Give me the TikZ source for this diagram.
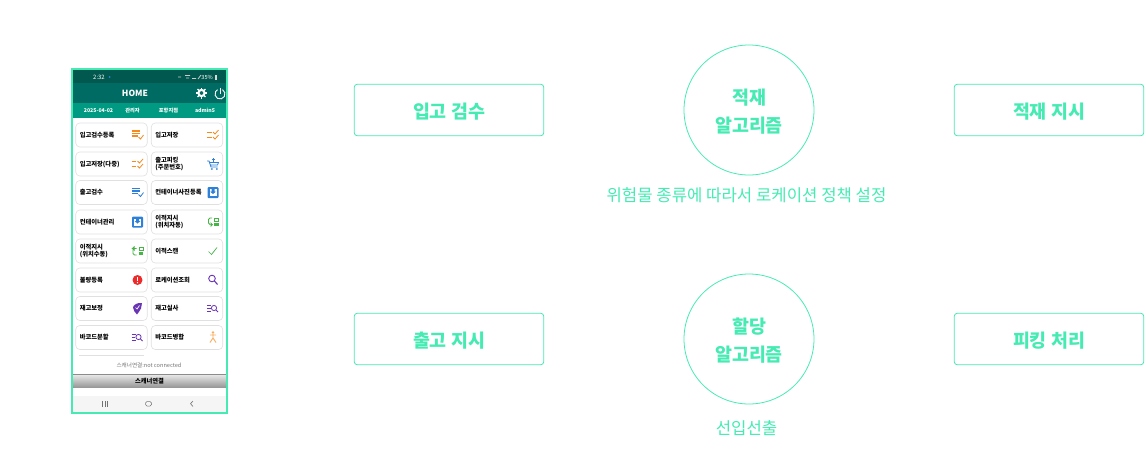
\documentclass[tikz,border=0pt]{standalone}
\usepackage{fontspec}
\setmainfont{Noto Sans CJK KR}
\definecolor{mint}{HTML}{45EBB2}
\definecolor{statusgreen}{HTML}{00584E}
\definecolor{headgreen}{HTML}{006B62}
\definecolor{subgreen}{HTML}{009A82}
\definecolor{iconorange}{HTML}{F58A1F}
\definecolor{iconblue}{HTML}{2F80D8}
\definecolor{icongreen}{HTML}{45B545}
\definecolor{iconpurple}{HTML}{6A35B5}
\definecolor{iconred}{HTML}{EC2B2B}
\newcommand{\lowered}{\rule{0pt}{18.5pt}}
\tikzset{
	box_style/.style = {shape=rectangle, draw=mint, rounded corners=3pt, line width=0.8pt, minimum width=189.5pt, minimum height=51.5pt, text=mint, execute at begin node={\rule{0pt}{18.5pt}}, font=\fontsize{18.4}{22}\selectfont\bfseries},
	algo_style/.style = {shape=circle, draw=mint, line width=0.8pt, minimum size=130pt, inner sep=0pt, text=mint, align=center, font=\fontsize{18.4}{28}\selectfont\bfseries},
	note_style/.style = {text=mint, inner sep=0pt, font=\fontsize{16.7}{20}\selectfont},
	menu_style/.style = {shape=rectangle, draw=black!12, rounded corners=4pt, line width=0.6pt, fill=white, minimum width=71.5pt, minimum height=24pt, text width=63.5pt, inner xsep=4pt, inner ysep=0pt, align=left, font=\fontsize{6.3}{7.6}\selectfont\bfseries},
	bar_style/.style = {text=white, inner sep=0pt, font=\fontsize{5.2}{6}\selectfont\bfseries}
}
% small menu icons, drawn around the local origin
\newcommand{\IconList}[1]{
	\draw[#1, line width=1.1pt] (-6,-4) -- (2,-4) (-6,-1.5) -- (2,-1.5) (-6,1) -- (0,1);
	\draw[#1, line width=0.8pt] (1,2) -- (3,4) -- (6,0);
}
\newcommand{\IconTwoCheck}[1]{
	\draw[#1, line width=0.8pt] (-6,-2.5) -- (-1.5,-2.5) (-6,2.5) -- (-1.5,2.5);
	\draw[#1, line width=0.8pt] (0,-3) -- (2,-1) -- (5.5,-5) (0,2) -- (2,4) -- (5.5,0);
}
\newcommand{\IconCart}[1]{
	\draw[#1, line width=0.8pt] (-6,-3) -- (-4,-3) -- (-2,3) -- (4.5,3) (-3.5,-1.5) -- (5.5,-1.5) -- (4.5,1) -- (-2.7,1);
	\draw[#1, line width=0.8pt] (0.5,-6) -- (0.5,-2.5) (-1.2,-4.2) -- (2.2,-4.2);
	\fill[#1] (-1.2,5) circle (1pt) (3.8,5) circle (1pt);
}
\newcommand{\IconPhoto}[1]{
	\fill[#1, rounded corners=1pt] (-5.5,-5.5) rectangle (5.5,5.5);
	\fill[white] (-3.5,-3.5) rectangle (3.5,3.5);
	\fill[#1] (-1.5,-3.5) -- (1.5,-3.5) -- (1.5,-1) -- (3,-1) -- (0,1.5) -- (-3,-1) -- (-1.5,-1) -- cycle;
}
\newcommand{\IconMoveRight}[1]{
	\draw[#1, line width=0.9pt, rounded corners=1.5pt] (-1,-4) -- (-4.5,-4) -- (-4.5,2.5) -- (-2.5,2.5);
	\fill[#1] (-2.5,0) -- (0,2.5) -- (-2.5,5) -- cycle;
	\draw[#1, line width=0.8pt] (1.5,-4) rectangle (5.5,-0.8);
	\fill[#1] (1.1,0.8) rectangle (5.9,4.4);
}
\newcommand{\IconMoveLeft}[1]{
	\draw[#1, line width=0.9pt, rounded corners=1.5pt] (-1,-2.5) -- (-4.5,-2.5) -- (-4.5,4) -- (-1,4);
	\fill[#1] (-3,-5) -- (-5.8,-2.5) -- (-3,0) -- cycle;
	\draw[#1, line width=0.8pt] (1.5,-4) rectangle (5.5,-0.8);
	\fill[#1] (1.1,0.8) rectangle (5.9,4.4);
}
\newcommand{\IconCheck}[1]{
	\draw[#1, line width=0.7pt] (-4.5,0.5) -- (-1.5,3.5) -- (4,-3.5);
}
\newcommand{\IconAlert}[1]{
	\fill[#1] (0,0) circle (5pt);
	\draw[white, line width=1.1pt] (0,-3) -- (0,0.8);
	\fill[white] (0,2.6) circle (0.7pt);
}
\newcommand{\IconSearch}[1]{
	\draw[#1, line width=0.9pt] (-1,-1.5) circle (3.3pt);
	\draw[#1, line width=1.1pt] (1.5,1) -- (4.5,4.5);
}
\newcommand{\IconPin}[1]{
	\fill[#1] (4.5,-5.5) -- (3.5,0) .. controls (2.5,3) and (0,4.5) .. (-0.5,6) .. controls (-2,3.5) and (-5,2) .. (-4.5,-1) .. controls (-4,-4) and (0,-6) .. cycle;
	\draw[white, line width=0.7pt] (-2,-1) -- (-0.5,0.5) -- (2,-3);
}
\newcommand{\IconListSearch}[1]{
	\draw[#1, line width=0.6pt] (-6,-3) -- (-2,-3) (-6,0) -- (-2.5,0) (-6,3) -- (-2,3);
	\draw[#1, line width=0.8pt] (1,-0.5) circle (2.6pt);
	\draw[#1, line width=0.9pt] (3,1.5) -- (5,3.5);
}
\newcommand{\IconPerson}[1]{
	\fill[#1] (0,-5) circle (1.3pt);
	\draw[#1, line width=0.9pt] (-3,-2.5) -- (3,-2.5) (0,-3.5) -- (0,0.5) -- (-3,5) (0,0.5) -- (3,5);
}

\begin{document}
\begin{tikzpicture}[x=1pt, y=-1pt]
	\useasboundingbox (0,0) rectangle (1146,450);

	% phone
	\fill[white] (73,70) rectangle (226,412);
	\fill[statusgreen] (73,70) rectangle (226,83);
	\fill[headgreen] (73,83) rectangle (226,103);
	\fill[subgreen] (73,103) rectangle (226,118);
	\fill[black!4] (73,396) rectangle (226,412);
	\draw[mint, line width=1.8pt] (72,69) rectangle (227,413);

	\node[bar_style, font=\fontsize{6}{7}\selectfont] (clock) at (99,77) {2:32};
	\fill[iconblue] (109.7,77) circle (1pt);
	\draw[white!80!black, line width=0.8pt] (178,77) -- (181,77) (185,75.5) -- (190,75.5) (186,78) -- (189,78) (192,78.5) -- (196,78.5) (198,79) -- (201,75);
	\node[bar_style, font=\fontsize{5.6}{6}\selectfont, anchor=east] (battery) at (213,77) {35\%};
	\fill[white!85!black] (214.5,75) rectangle (217,79.5);
	\node[bar_style, font=\fontsize{8.5}{10}\selectfont\bfseries] (home) at (135,93) {HOME};
	\fill[white, even odd rule] (201.5,93) circle (2pt) circle (4.2pt);
	\foreach \a in {0,45,...,315}
		\draw[white, line width=1.3pt] (201.5,93) ++(\a:3.5pt) -- ++(\a:2pt);
	\draw[white, line width=0.9pt] (220,94) ++(60:5pt) arc[start angle=60, end angle=-240, radius=5pt];
	\draw[white, line width=0.9pt] (220,87.5) -- (220,93.5);
	\node[bar_style] (today) at (98.5,110.5) {2025-04-02};
	\node[bar_style] (grade) at (132.5,110.5) {관리자};
	\node[bar_style] (site) at (168.5,110.5) {포항지점};
	\node[bar_style] (user) at (205,110.5) {admin5};

	\foreach \row/\ytext/\ltext/\licon/\rtext/\ricon in {
		1/135/입고검수등록/{\IconList{iconorange}}/입고저장/{\IconTwoCheck{iconorange}},
		2/164/입고저장(다중)/{\IconTwoCheck{iconorange}}/{출고피킹\\(주문번호)}/{\IconCart{iconblue}},
		3/192.5/출고검수/{\IconList{iconblue}}/컨테이너사진등록/{\IconPhoto{iconblue}},
		4/222/컨테이너관리/{\IconPhoto{iconblue}}/{이적지시\\(위치자동)}/{\IconMoveRight{icongreen}},
		5/251/{이적지시\\(위치수동)}/{\IconMoveLeft{icongreen}}/이적스캔/{\IconCheck{icongreen}},
		6/280/불량등록/{\IconAlert{iconred}}/로케이션조회/{\IconSearch{iconpurple}},
		7/308.5/재고보정/{\IconPin{iconpurple}}/재고실사/{\IconListSearch{iconpurple}},
		8/337.5/바코드분할/{\IconListSearch{iconpurple}}/바코드병합/{\IconPerson{iconorange!70}}}
	{
		\node[menu_style] (left\row) at (111.5,\ytext) {\ltext};
		\node[menu_style] (right\row) at (187,\ytext) {\rtext};
		\begin{scope}[shift={(137.5,\ytext)}]
			\licon
		\end{scope}
		\begin{scope}[shift={(213,\ytext)}]
			\ricon
		\end{scope}
	}

	\draw[black!12, line width=0.5pt] (79,355) -- (144,355);
	\node[inner sep=0pt, text=black!55, font=\fontsize{5.6}{7}\selectfont] (state) at (149,365.5) {스캐너연결:not connected};
	\node[minimum width=153pt, minimum height=13.5pt, inner sep=0pt, top color=black!8, bottom color=black!42, font=\fontsize{6.3}{7}\selectfont\bfseries] (connect) at (149.5,381) {스캐너연결};
	\draw[black!45, line width=0.4pt] (connect.north west) -- (connect.north east);
	\draw[black!55, line width=0.5pt] (102.5,401) -- (102.5,406.5) (105,401) -- (105,406.5) (107.5,401) -- (107.5,406.5);
	\draw[black!55, line width=0.5pt, rounded corners=1.5pt] (145.5,401.5) rectangle (151.5,406);
	\draw[black!55, line width=0.6pt] (193,401) -- (190.5,403.7) -- (193,406.5);

	% right part
	\node[box_style] (check_in) at (449,110) {입고 검수};
	\node[algo_style] (stow_algo) at (749,110) {\lowered 적재\\알고리즘};
	\node[box_style] (stow_order) at (1049,110) {적재 지시};
	\node[note_style] (stow_note) at (746.5,195) {위험물 종류에 따라서 로케이션 정책 설정};
	\node[box_style] (ship_order) at (449,339) {출고 지시};
	\node[algo_style] (alloc_algo) at (749,339) {\lowered 할당\\알고리즘};
	\node[box_style] (picking) at (1049,339) {피킹 처리};
	\node[note_style] (alloc_note) at (746.5,428) {선입선출};
\end{tikzpicture}
\end{document}
